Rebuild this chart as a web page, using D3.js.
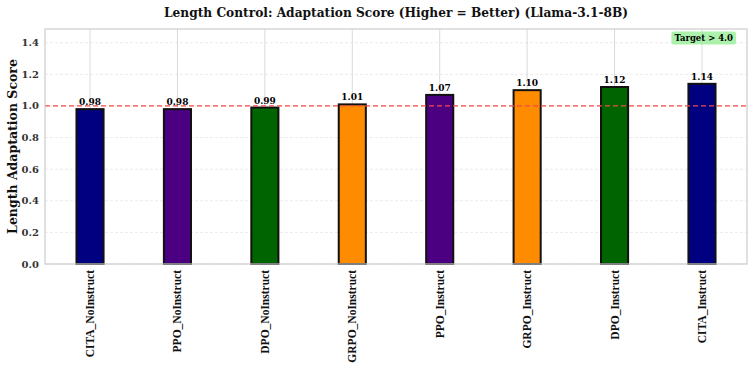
<!DOCTYPE html>
<html><head><meta charset="utf-8">
<script src="https://cdn.jsdelivr.net/npm/d3@7"></script>
<style>body{margin:0;background:#fff}svg{display:block}text{font-family:"DejaVu Serif",serif;font-weight:bold}</style>
</head><body>
<script>
const categories = ["CITA_NoInstruct","PPO_NoInstruct","DPO_NoInstruct","GRPO_NoInstruct","PPO_Instruct","GRPO_Instruct","DPO_Instruct","CITA_Instruct"];
const scores = [0.98,0.98,0.99,1.01,1.07,1.10,1.12,1.14];
const barColors = ["#000080","#4B0082","#006400","#FF8C00","#4B0082","#FF8C00","#006400","#000080"];
const yTicks = [0.0,0.2,0.4,0.6,0.8,1.0,1.2,1.4];
const refLine = 1.0;
const title = "Length Control: Adaptation Score (Higher = Better) (Llama-3.1-8B)";
const yLabel = "Length Adaptation Score";
const targetText = "Target > 4.0";

const W=754,H=373;
const m={l:45,r:7,t:29,b:109};
const svg=d3.select("body").append("svg").attr("width",W).attr("height",H);
const pw=W-m.l-m.r, ph=H-m.t-m.b;
const g=svg.append("g").attr("transform",`translate(${m.l},${m.t})`);
const x=d3.scaleBand().domain(categories).range([0,pw]).paddingInner(0.69).paddingOuter(0.36);
const y=d3.scaleLinear().domain([0,1.487]).range([ph,0]);
const cx=d=>x(d)+x.bandwidth()/2;

// horizontal dashed grid
g.selectAll(".hg").data(yTicks).join("line").attr("x1",0).attr("x2",pw)
 .attr("y1",d=>y(d)).attr("y2",d=>y(d)).attr("stroke","#e6e6e6").attr("stroke-width",0.8).attr("stroke-dasharray","3,2");
// vertical grid
g.selectAll(".vg").data(categories).join("line").attr("x1",cx).attr("x2",cx)
 .attr("y1",0).attr("y2",ph).attr("stroke","#d0d0d0").attr("stroke-width",0.8);

// bars
g.selectAll(".bar").data(categories).join("rect")
 .attr("x",d=>x(d)).attr("width",x.bandwidth())
 .attr("y",(d,i)=>y(scores[i])).attr("height",(d,i)=>y(0)-y(scores[i]))
 .attr("fill",(d,i)=>barColors[i]).attr("stroke","#111").attr("stroke-width",2);

// value labels
g.selectAll(".vl").data(categories).join("text")
 .attr("x",cx).attr("y",(d,i)=>y(scores[i])-4).attr("text-anchor","middle")
 .attr("font-size","9px").text((d,i)=>scores[i].toFixed(2));

// reference line
g.append("line").attr("x1",0).attr("x2",pw).attr("y1",y(refLine)).attr("y2",y(refLine))
 .attr("stroke","#f24a4a").attr("stroke-width",1.2).attr("stroke-dasharray","5,3");

// frame
g.append("rect").attr("x",0).attr("y",0).attr("width",pw).attr("height",ph)
 .attr("fill","none").attr("stroke","#cccccc").attr("stroke-width",1.2);

// y axis ticks labels
g.selectAll(".yt").data(yTicks).join("text").attr("x",-6).attr("y",d=>y(d)).attr("dy","0.35em")
 .attr("text-anchor","end").attr("font-size","10px").attr("fill","#333").text(d=>d.toFixed(1));

// x labels
g.selectAll(".xt").data(categories).join("text")
 .attr("transform",d=>`translate(${cx(d)+4},${ph+6}) rotate(-90)`)
 .attr("text-anchor","end").attr("font-size","11.5px").attr("fill","#111")
 .style("font-family","'Liberation Serif','Times New Roman',serif").text(d=>d);

// title
svg.append("text").attr("x",m.l+pw/2).attr("y",17).attr("text-anchor","middle").attr("font-size","12.2px").attr("fill","#111").text(title);
// y label
svg.append("text").attr("transform",`translate(17,${m.t+ph/2}) rotate(-90)`).attr("text-anchor","middle").attr("font-size","12.5px").attr("fill","#111").text(yLabel);

// target box
const tb=g.append("g").attr("transform",`translate(${pw-14},${9})`);
const tt=tb.append("text").attr("text-anchor","end").attr("font-size","8.5px").attr("dy","0.35em").text(targetText);
const bb=tt.node().getBBox();
tb.insert("rect","text").attr("x",bb.x-3).attr("y",bb.y-1.5).attr("width",bb.width+6).attr("height",bb.height+3)
 .attr("rx",2.5).attr("fill","#90ee90").attr("opacity",0.75);
</script>
</body></html>
